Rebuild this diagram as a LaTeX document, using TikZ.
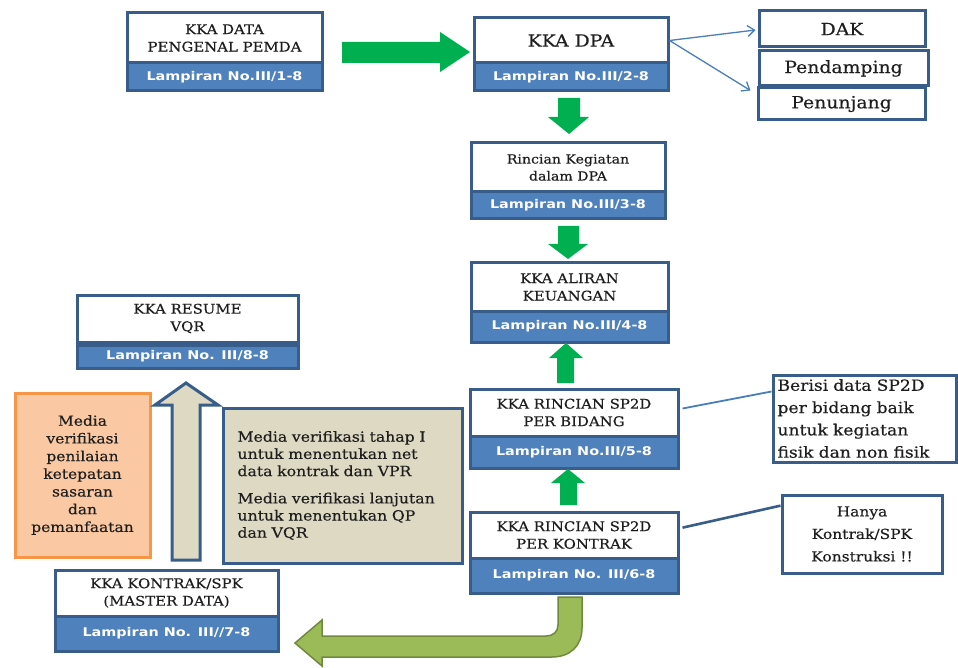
\documentclass[tikz,border=0pt]{standalone}
\usepackage{fontspec}
\setmainfont{DejaVu Serif}[FakeStretch=1.12,FakeBold=0.35]
\newfontfamily\lampfont{DejaVu Sans Bold}[FakeStretch=1.2]
\usetikzlibrary{arrows.meta,calc}
\definecolor{bdr}{HTML}{385D8A}
\definecolor{stripc}{HTML}{4F81BD}
\definecolor{txt}{HTML}{1E1E1E}
\definecolor{gr}{HTML}{00B050}
\definecolor{olive}{HTML}{9BBB59}
\definecolor{olivedk}{HTML}{71893F}
\definecolor{tan}{HTML}{DDD9C3}
\definecolor{orfill}{HTML}{FAC8A2}
\definecolor{orbdr}{HTML}{F79646}
\definecolor{thinb}{HTML}{4A7EBB}
\newcommand\fsz[2]{\fontsize{#1}{#2}\selectfont}
\begin{document}
\begin{tikzpicture}[x=1pt,y=-1pt,
  spot/.style n args={4}{at={({(#1+#3)/2},{(#2+#4)/2})},minimum width={(#3)-(#1)},minimum height={(#4)-(#2)}},
  wbox/.style={draw=bdr,line width=3pt,fill=white,inner sep=0pt,align=center,text=txt,font=\fsz{13.3}{17.5}},
  strip/.style={draw=bdr,line width=3pt,fill=stripc,inner sep=0pt,text=white,font=\lampfont\fsz{12}{14}},
  gblk/.style={draw=none,fill=gr},
  thinarr/.style={draw=thinb,line width=1.3pt,-{Straight Barb[length=7pt,width=11pt]}},
  callbox/.style={draw=bdr,line width=3pt,fill=white,inner sep=0pt,text=txt}
]
\path[use as bounding box] (0,0) rectangle (958,668);

% ---- main boxes
\node[wbox,spot={127}{13}{322}{63}] (b1) {KKA DATA\\PENGENAL PEMDA};
\node[strip,spot={127}{63}{322}{91}] (b1s) {Lampiran No.III/1-8};

\node[wbox,spot={474}{18}{668}{63},font=\fsz{16.8}{19}] (b2) {KKA DPA};
\node[strip,spot={474}{63}{668}{91}] (b2s) {Lampiran No.III/2-8};

\node[wbox,spot={759}{11}{925}{47},font=\fsz{16.8}{19}] (dak) {DAK};
\node[wbox,spot={759}{51}{928}{86},font=\fsz{16.8}{19}] (pdm) {Pendamping};
\node[wbox,spot={758}{88}{925}{120},font=\fsz{16.8}{19}] (pnj) {Penunjang};

\node[wbox,spot={471}{143}{665}{192},font=\fsz{12.6}{17}] (b3) {Rincian Kegiatan\\dalam DPA};
\node[strip,spot={471}{192}{665}{219}] (b3s) {Lampiran No.III/3-8};

\node[wbox,spot={471}{263}{668}{311}] (b4) {KKA ALIRAN\\KEUANGAN};
\node[strip,spot={471}{311}{668}{342}] (b4s) {Lampiran No.III/4-8};

\node[wbox,spot={77}{295}{298}{342}] (b5) {KKA RESUME\\VQR};
\node[strip,spot={77}{345}{298}{368}] (b5s) {Lampiran No. III/8-8};

\node[wbox,spot={470}{389}{678}{436}] (b6) {KKA RINCIAN SP2D\\PER BIDANG};
\node[strip,spot={470}{436}{678}{468}] (b6s) {Lampiran No.III/5-8};

\node[wbox,spot={470}{512}{678}{558}] (b7) {KKA RINCIAN SP2D\\PER KONTRAK};
\node[strip,spot={470}{558}{678}{593}] (b7s) {Lampiran No. III/6-8};

\node[wbox,spot={55}{570}{278}{616}] (b8) {KKA KONTRAK/SPK\\(MASTER DATA)};
\node[strip,spot={55}{616}{278}{651}] (b8s) {Lampiran No. III//7-8};

% ---- side notes
\node[draw=orbdr,line width=3pt,fill=orfill,inner sep=0pt,align=center,text=txt,
      font=\fsz{13.8}{17.7},spot={15}{393}{150}{557}] (ornote)
      {Media\\verifikasi\\penilaian\\ketepatan\\sasaran\\dan\\pemanfaatan};

\node[draw=bdr,line width=3pt,fill=tan,inner sep=0pt,text width=210pt,align=left,text=txt,
      font=\fsz{14}{17.2},spot={223}{408}{462}{563}] (tannote)
      {Media verifikasi tahap I\\untuk menentukan net\\data kontrak dan VPR\\[10pt]Media verifikasi lanjutan\\untuk menentukan QP\\dan VQR};

\node[callbox,text width=174pt,align=left,font=\fsz{15.3}{22.3},spot={773}{375}{956}{462}] (c1)
      {Berisi data SP2D\\per bidang baik\\untuk kegiatan\\fisik dan non fisik};
\node[callbox,align=center,font=\fsz{13.8}{22.5},spot={782}{495}{942}{573}] (c2)
      {Hanya\\Kontrak/SPK\\Konstruksi !!};

% ---- thin connectors
\coordinate (pj) at ($(pnj.north west)+(-6,4)$);
\draw[thinarr] (b2.east) -- ($(dak.west)+(-2,1)$);
\draw[thinarr] (b2.east) -- (pj);
\draw[draw=thinb,line width=1.8pt] ($(b6.east)+(3,-4)$) -- ($(c1.north west)!0.2!(c1.south west)$);
\draw[draw=bdr,line width=2.6pt] ($(b7.north east)!0.35!(b7.south east)+(3,0)$) -- ($(c2.north west)!0.15!(c2.south west)$);

% ---- green block arrows
\fill[gblk] (342,42) -- (440,42) -- (440,32) -- (470,52) -- (440,72) -- (440,63) -- (342,63) -- cycle;
\fill[gblk] (558,98) -- (580,98) -- (580,117) -- (589,117) -- (569,134) -- (548,117) -- (558,117) -- cycle;
\fill[gblk] (558,226) -- (579,226) -- (579,244) -- (588,244) -- (568,259) -- (548,244) -- (558,244) -- cycle;
\fill[gblk] (557,383) -- (557,358) -- (549,358) -- (566,343) -- (583,358) -- (574,358) -- (574,383) -- cycle;
\fill[gblk] (560,505) -- (560,483) -- (551,483) -- (568,469) -- (585,483) -- (577,483) -- (577,505) -- cycle;

% ---- hollow tan arrow
\filldraw[fill=tan,draw=bdr,line width=3pt,line join=miter]
  (172,560) -- (172,405) -- (155,405) -- (186,383) -- (218,405) -- (200,405) -- (200,560) -- cycle;

% ---- curved olive arrow
\filldraw[fill=olive,draw=olivedk,line width=1.5pt,line join=miter]
  (582,597) -- (582,628) .. controls (582,646) and (570,657) .. (552,657) -- (322,657) -- (322,666)
  -- (295,643) -- (322,620) -- (322,636) -- (546,636) .. controls (553,636) and (558,632) .. (558,625)
  -- (558,597) -- cycle;
\end{tikzpicture}
\end{document}
